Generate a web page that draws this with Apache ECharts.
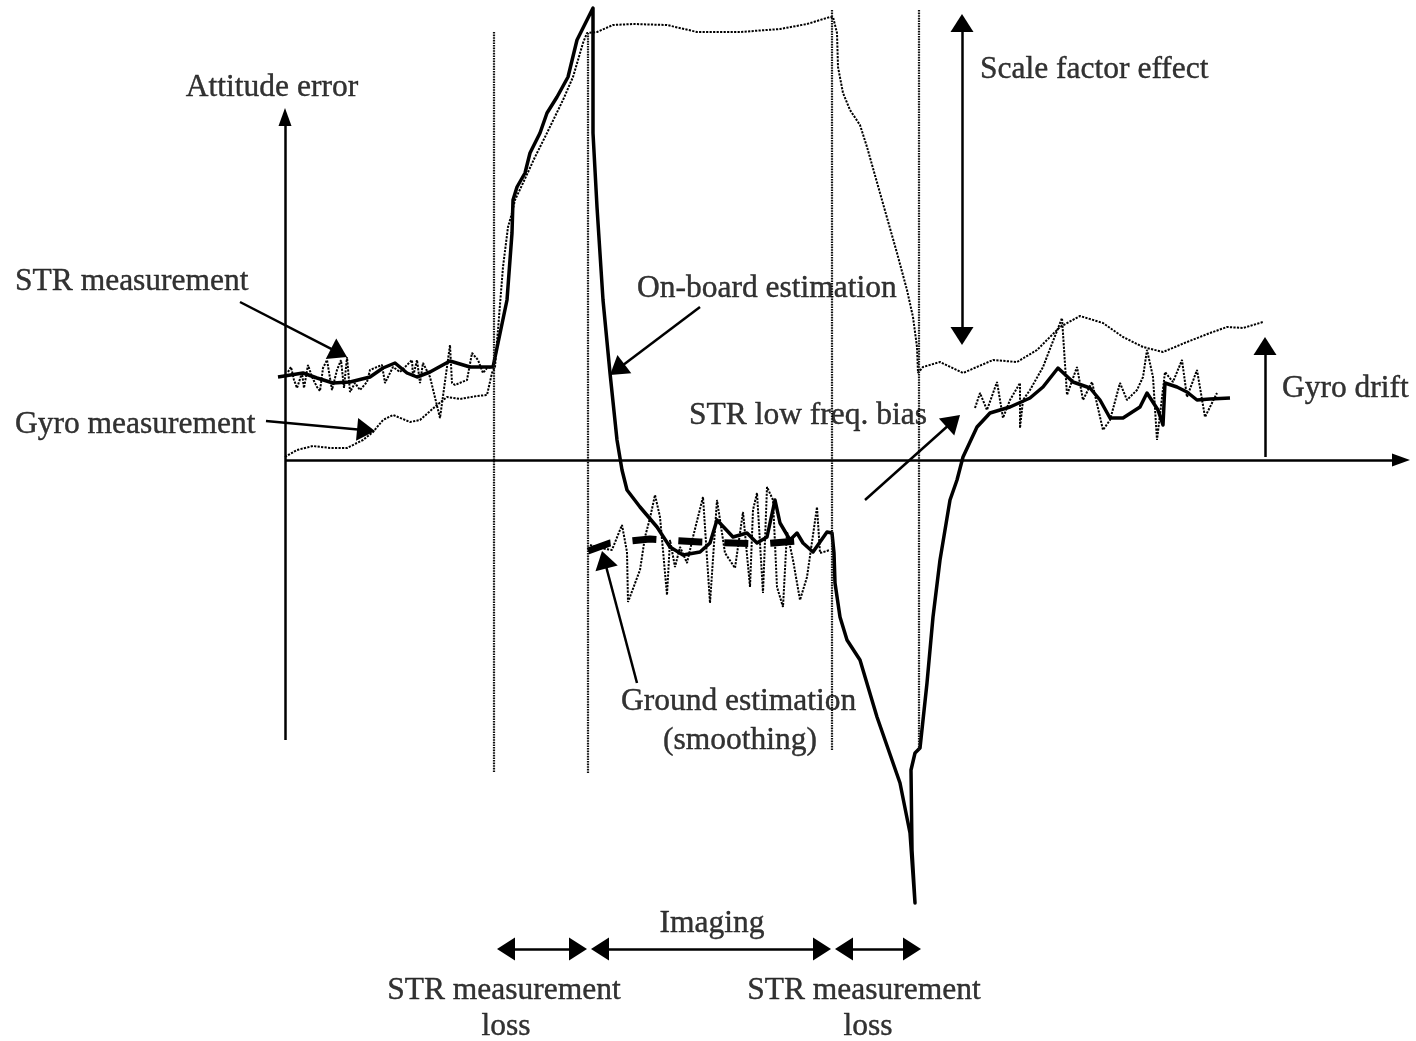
<!DOCTYPE html>
<html>
<head>
<meta charset="utf-8">
<title>Attitude error</title>
<script src="https://cdn.jsdelivr.net/npm/echarts@6/dist/echarts.min.js"></script>
<style>
  html, body { margin: 0; padding: 0; background: #fff; }
  #chart { width: 1416px; height: 1041px; }
</style>
</head>
<body>
<div id="chart"></div>
<script>
// t = time (0 at the vertical axis), e = attitude error (0 at the time axis)
var onboardEstimation = [
  [-7, 83], [18, 87], [32, 82], [48, 77], [65, 78], [85, 83], [98, 92], [110, 97],
  [122, 87], [132, 83], [145, 88], [165, 99], [185, 93], [208, 93],
  [222, 160], [227, 227], [228, 260], [232, 273], [240, 287], [245, 307], [255, 327],
  [262, 347], [272, 363], [283, 383], [292, 420], [302, 440], [308, 452],
  [308, 327], [312, 253], [318, 160], [325, 87], [332, 20], [337, -10], [342, -30],
  [355, -47], [372, -67], [385, -87], [398, -95], [415, -92], [425, -83], [432, -60],
  [448, -77], [462, -73], [472, -83], [482, -77], [490, -40], [495, -63], [505, -80],
  [512, -73], [518, -83], [528, -92], [542, -72], [547, -73],
  [549, -93], [550, -123], [555, -157], [562, -180], [575, -200], [592, -257],
  [615, -323], [625, -373], [630, -443],
  [627, -390], [626, -310], [630, -293], [635, -288], [642, -223], [648, -157],
  [655, -100], [665, -40], [672, -20], [678, 3], [692, 33], [705, 47], [725, 53],
  [745, 62], [758, 73], [773, 92], [788, 78], [805, 72], [815, 60], [825, 42],
  [838, 42], [855, 53], [862, 67], [873, 50], [878, 35], [880, 77], [892, 73],
  [902, 68], [912, 60], [925, 61], [945, 62]
];

var groundEstimation = [
  [303, -91], [325, -83], [365, -79], [415, -82], [475, -84], [525, -80]
];

var strBeforeLoss = [
  [3, 88], [6, 93], [9, 80], [12, 72], [17, 87], [19, 72], [23, 95], [27, 83],
  [32, 73], [35, 69], [38, 92], [42, 100], [47, 70], [52, 90], [56, 100], [59, 72],
  [62, 103], [65, 68], [70, 77], [75, 70], [82, 78], [85, 90], [92, 93], [97, 95],
  [100, 77], [108, 93], [115, 88], [127, 100], [128, 83], [132, 100], [135, 77],
  [138, 97], [145, 83], [155, 42], [165, 115], [167, 77], [170, 75], [182, 80],
  [187, 107], [193, 100], [198, 87], [202, 92], [208, 93]
];

var strImaging = [
  [305, -85], [315, -88], [327, -90], [337, -65], [342, -92], [343, -142], [355, -110],
  [360, -77], [365, -58], [370, -35], [375, -57], [382, -135], [385, -80], [390, -107],
  [395, -87], [402, -103], [408, -77], [418, -37], [425, -143], [432, -40], [440, -93],
  [450, -108], [458, -52], [465, -127], [468, -50], [472, -33], [478, -133], [482, -27],
  [488, -40], [492, -127], [498, -147], [502, -72], [508, -100], [515, -140],
  [522, -117], [532, -47], [535, -93], [545, -90]
];

var strAfterLoss = [
  [690, 52], [695, 67], [702, 50], [712, 78], [718, 42], [725, 60], [735, 77],
  [735, 32], [738, 60], [745, 70], [758, 93], [777, 142], [782, 65], [792, 93],
  [798, 60], [807, 78], [818, 30], [825, 40], [835, 77], [842, 60], [852, 70],
  [858, 83], [862, 110], [868, 83], [872, 20], [880, 88], [888, 78], [897, 100],
  [902, 63], [912, 90], [920, 43], [932, 67]
];

var gyroMeasurement = [
  [0, 3], [12, 10], [28, 14], [45, 12], [62, 12], [78, 20], [88, 28], [98, 40],
  [108, 45], [125, 38], [135, 40], [152, 55], [162, 63], [175, 61], [192, 64],
  [202, 65], [207, 87], [210, 93], [218, 193], [223, 233], [227, 247], [230, 260],
  [238, 277], [250, 303], [262, 327], [278, 360], [288, 383], [298, 417], [302, 427],
  [312, 428], [328, 435], [348, 436], [382, 435], [412, 428], [455, 428], [495, 431],
  [522, 436], [545, 443], [548, 443], [552, 427], [553, 393], [558, 367], [565, 350],
  [575, 335], [582, 313], [595, 267], [612, 207], [622, 170], [628, 143], [632, 113],
  [633, 87], [638, 93], [655, 98], [678, 87], [708, 100], [732, 98], [752, 110],
  [775, 133], [795, 144], [818, 137], [838, 123], [858, 113], [878, 108], [902, 118],
  [925, 127], [942, 133], [958, 132], [978, 138]
];

// phase boundaries: [t, top, bottom]
var phaseLines = [[209, 428, -313], [303, 427, -313], [547, 450, -290], [634, 450, -290]];

// arrows: [from, to, double-headed]
var axisArrows = [
  [[0, -280], [0, 352]],
  [[0, 0], [1125, 0]]
];
var noteArrows = [
  [[-45, 158], [62, 103], false],
  [[-19, 39], [90, 29], false],
  [[415, 153], [325, 85], false],
  [[352, -223], [317, -91], false],
  [[580, -40], [675, 45], false],
  [[677, 446], [677, 115], true],
  [[980, 3], [980, 123], false],
  [[212, -489], [302, -489], true],
  [[306, -489], [546, -489], true],
  [[550, -489], [636, -489], true]
];

var labels = [
  ['Attitude error', -13, 372, 'center'],
  ['STR measurement', -270, 178, 'left'],
  ['Gyro measurement', -270, 35, 'left'],
  ['On-board estimation', 352, 171, 'left'],
  ['Scale factor effect', 695, 390, 'left'],
  ['STR low freq. bias', 404, 44, 'left'],
  ['Gyro drift', 997, 71, 'left'],
  ['Ground estimation', 336, -242, 'left'],
  ['(smoothing)', 455, -281, 'center'],
  ['Imaging', 427, -464, 'center'],
  ['STR measurement', 219, -531, 'center'],
  ['loss', 221, -567, 'center'],
  ['STR measurement', 579, -531, 'center'],
  ['loss', 583, -567, 'center']
];

var FONT = '"Liberation Serif", "Times New Roman", serif';
var chart = echarts.init(document.getElementById('chart'));

// move an arrow end back so the triangle tip lands on the given point
function pullBack(a, b, len) {
  var dx = b[0] - a[0], dy = b[1] - a[1];
  var d = Math.sqrt(dx * dx + dy * dy);
  return [b[0] - dx / d * len, b[1] - dy / d * len];
}

function arrowItem(from, to, both, size) {
  var end = pullBack(from, to, size[1] / 2);
  var start = both ? pullBack(to, from, size[1] / 2) : from;
  return [
    { coord: start, symbol: both ? 'triangle' : 'none', symbolSize: size },
    { coord: end, symbol: 'triangle', symbolSize: size }
  ];
}

function dottedLine(name, data) {
  return {
    name: name,
    type: 'line',
    data: data,
    symbol: 'none',
    silent: true,
    clip: false,
    z: 2,
    lineStyle: { color: '#000', width: 2, type: [2.2, 1.3] }
  };
}

chart.setOption({
  animation: false,
  backgroundColor: '#fff',
  grid: { left: 0, right: 0, top: 0, bottom: 0 },
  xAxis: { type: 'value', min: -285, max: 1131, show: false },
  yAxis: { type: 'value', min: -581, max: 460, show: false },
  series: [
    {
      name: 'phases',
      type: 'line',
      data: [],
      silent: true,
      markLine: {
        silent: true,
        symbol: ['none', 'none'],
        label: { show: false },
        lineStyle: { color: '#111', width: 2.2, type: [1.6, 1] },
        data: phaseLines.map(function (p) {
          return [{ coord: [p[0], p[1]] }, { coord: [p[0], p[2]] }];
        })
      }
    },
    {
      name: 'axes',
      type: 'line',
      data: [],
      silent: true,
      markLine: {
        silent: true,
        label: { show: false },
        lineStyle: { color: '#000', width: 2.5, type: 'solid' },
        data: axisArrows.map(function (a) {
          return arrowItem(a[0], a[1], false, [13, 18]);
        })
      }
    },
    {
      name: 'notes',
      type: 'line',
      data: [],
      silent: true,
      markLine: {
        silent: true,
        label: { show: false },
        lineStyle: { color: '#000', width: 2.5, type: 'solid' },
        data: noteArrows.map(function (a) {
          return arrowItem(a[0], a[1], a[2], [23, 18]);
        })
      }
    },
    dottedLine('Gyro measurement', gyroMeasurement),
    dottedLine('STR measurement', strBeforeLoss),
    dottedLine('STR measurement', strImaging),
    dottedLine('STR measurement', strAfterLoss),
    {
      name: 'On-board estimation',
      type: 'line',
      data: onboardEstimation,
      symbol: 'none',
      silent: true,
      clip: false,
      z: 4,
      lineStyle: { color: '#000', width: 3.5, join: 'round' }
    },
    {
      name: 'Ground estimation',
      type: 'line',
      data: groundEstimation,
      symbol: 'none',
      silent: true,
      clip: false,
      z: 5,
      lineStyle: { color: '#000', width: 7, type: [24, 22], cap: 'butt' }
    },
    {
      name: 'labels',
      type: 'scatter',
      symbolSize: 1,
      silent: true,
      z: 6,
      itemStyle: { color: 'rgba(0,0,0,0)' },
      label: {
        show: true,
        position: 'inside',
        formatter: '{b}',
        color: '#000',
        textBorderColor: '#000',
        textBorderWidth: 0.4,
        fontFamily: FONT,
        fontSize: 31.5,
        verticalAlign: 'middle'
      },
      data: labels.map(function (l) {
        return { name: l[0], value: [l[1], l[2]], label: { align: l[3] } };
      })
    }
  ]
});
</script>
</body>
</html>
